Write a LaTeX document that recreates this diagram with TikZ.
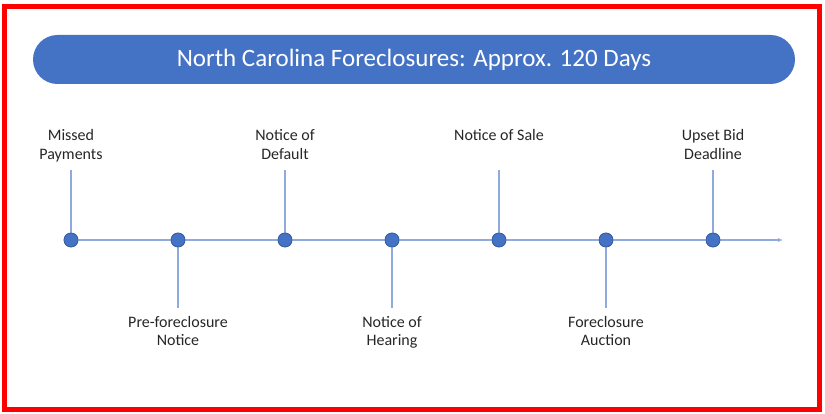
\documentclass[tikz,border=0pt]{standalone}
\usepackage{fontspec}
\setmainfont{Carlito}
\usetikzlibrary{arrows.meta}
\definecolor{barblue}{HTML}{4472C4}
\definecolor{linblue}{HTML}{8FAADC}
\definecolor{txt}{HTML}{262626}
\begin{document}
\begin{tikzpicture}[x=1pt,y=-1pt,
  dot/.style={circle,fill=barblue,draw=barblue!80!black,line width=0.6pt,minimum size=14pt,inner sep=0pt},
  lbl/.style={align=center,font=\fontsize{16}{18.5}\selectfont,text=txt,inner sep=0pt,anchor=base},
  tl/.style={draw=linblue,line width=1.2pt}]
\useasboundingbox (0,0) rectangle (825,414);
\draw[red,line width=5pt] (4.5,6.5) rectangle (819.5,409.5);
\node[fill=barblue,rounded corners=24.5pt,minimum width=762pt,minimum height=49pt,inner sep=0pt,
  text height=15pt,text depth=0pt,
  text=white,font=\fontsize{25}{28}\selectfont] (title) at (414,59.5) {North Carolina Foreclosures: Approx. 120 Days};
\coordinate (end) at (783,240);
\node[dot] (d1) at (71,240) {};
\node[dot] (d2) at (178,240) {};
\node[dot] (d3) at (285,240) {};
\node[dot] (d4) at (392,240) {};
\node[dot] (d5) at (499,240) {};
\node[dot] (d6) at (606,240) {};
\node[dot] (d7) at (713,240) {};
\draw[tl,-{Latex[length=5pt,width=4pt]}] (d1) -- (d2) -- (d3) -- (d4) -- (d5) -- (d6) -- (d7) -- (end);
\coordinate (s1) at (71,170);
\coordinate (s2) at (178,308);
\coordinate (s3) at (285,170);
\coordinate (s4) at (392,308);
\coordinate (s5) at (499,170);
\coordinate (s6) at (606,308);
\coordinate (s7) at (713,170);
\foreach \i in {1,...,7}{\draw[tl] (d\i) -- (s\i);}
\foreach \i in {1,...,7}{\node[dot] at (d\i) {};}
\node[lbl] (l1) at (71,159.5) {Missed\\Payments};
\node[lbl] (l3) at (285,159.5) {Notice of\\Default};
\node[lbl] (l5) at (499,141) {Notice of Sale};
\node[lbl] (l7) at (713,159.5) {Upset Bid\\Deadline};
\node[lbl] (l2) at (178,345.5) {Pre-foreclosure\\Notice};
\node[lbl] (l4) at (392,345.5) {Notice of\\Hearing};
\node[lbl] (l6) at (606,345.5) {Foreclosure\\Auction};
\end{tikzpicture}
\end{document}
